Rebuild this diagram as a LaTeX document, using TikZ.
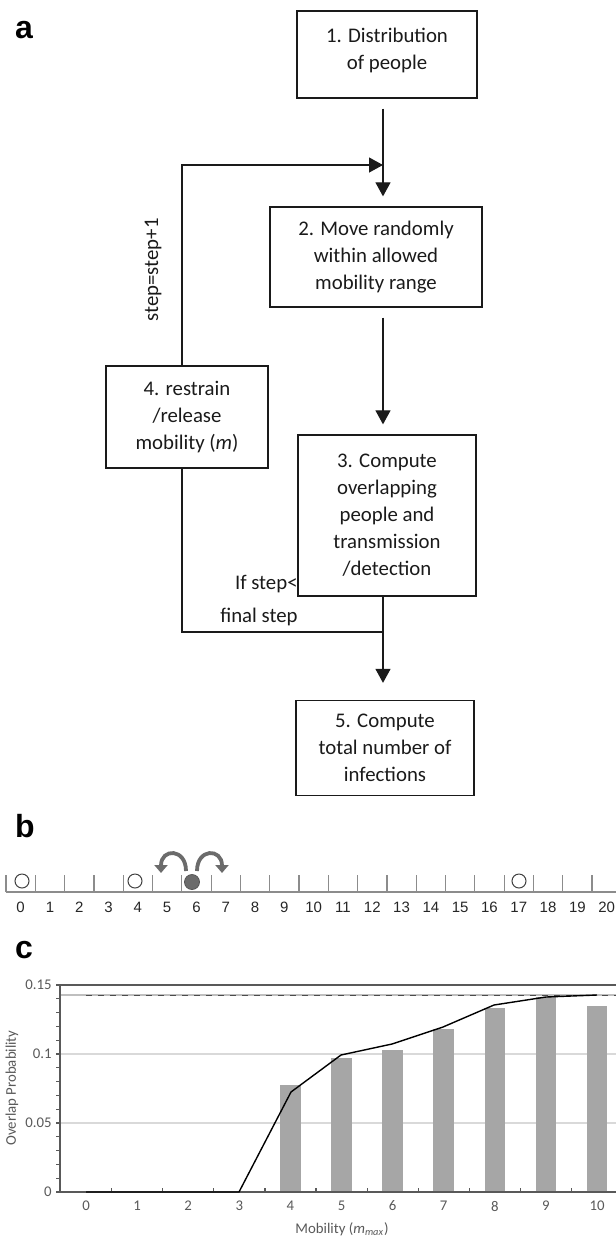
\documentclass[tikz,border=0pt]{standalone}
\usepackage{fontspec}
\setmainfont{Carlito}
\newfontfamily\arialfont{Liberation Sans}
\usetikzlibrary{arrows.meta}
\definecolor{boxline}{HTML}{1A1A1A}
\definecolor{axisgray}{HTML}{595959}
\definecolor{gridgray}{HTML}{D9D9D9}
\definecolor{bargray}{HTML}{A6A6A6}
\definecolor{dotgray}{HTML}{6B6B6B}
\definecolor{linegray}{HTML}{8C8C8C}

\begin{document}
\begin{tikzpicture}[x=0.5pt,y=-0.5pt,
      >={Triangle[length=7pt,width=7.5pt]},
      every node/.style={inner sep=0pt,text=boxline},
      box/.style={draw=boxline,line width=0.65pt,align=center,
        font=\fontsize{10.4}{13.5}\selectfont},
      note/.style={font=\fontsize{10.4}{13.5}\selectfont},
      conn/.style={draw=boxline,line width=0.6pt},
      panel/.style={font=\arialfont\bfseries\fontsize{16}{16}\selectfont,text=black},
      numline/.style={draw=linegray,line width=0.6pt},
      numlbl/.style={font=\arialfont\fontsize{7.5}{7.5}\selectfont,text=black!85},
      spot/.style={circle,draw=black!75,fill=white,line width=0.5pt,minimum size=7pt},
      carrier/.style={circle,draw=dotgray!80!black,fill=dotgray,line width=0.4pt,minimum size=7.5pt},
      hop/.style={draw=dotgray,line width=1.9pt,-{Triangle[length=4pt,width=6.5pt]}},
      ticklbl/.style={font=\fontsize{7.4}{7.4}\selectfont,text=axisgray},
      axis/.style={draw=axisgray,line width=0.6pt},
      grid/.style={draw=gridgray,line width=0.6pt},
      bar/.style={fill=bargray},
      curve/.style={draw=black,line width=0.7pt,line join=round}]

  \useasboundingbox (0,0) rectangle (616,1238);

  % (a) flow chart
  \node [panel] (la) at (24,30) {a};

  \node [box, minimum width=90pt, minimum height=43.5pt] (b1) at (387,54.5)
    {1. Distribution\\of people\\[-7.5pt]{}};
  \node [box, minimum width=106pt, minimum height=50pt] (b2) at (376,257)
    {2. Move randomly\\within allowed\\mobility range};
  \node [box, minimum width=89pt, minimum height=80.5pt] (b3) at (387,515.5)
    {3. Compute\\overlapping\\people and\\transmission\\/detection};
  \node [box, minimum width=81pt, minimum height=51pt] (b4) at (187,417)
    {4. restrain\\/release\\mobility (\textit{m})};
  \node [box, minimum width=89pt, minimum height=47.5pt] (b5) at (385,748)
    {5. Compute\\total number of\\infections};

  \coordinate (col) at (383,0);
  \coordinate (loop) at (182,0);
  \coordinate (j1) at (383,165);
  \coordinate (j2) at (383,632);

  \draw [conn, ->, shorten <=5pt, shorten >=5pt] (b1.south -| col) -- (b2.north -| col);
  \draw [conn, ->, shorten <=5pt, shorten >=5pt] (b2.south -| col) -- (b3.north -| col);
  \draw [conn, ->, shorten >=8.5pt] (b3.south -| col) -- (b5.north -| col);
  \draw [conn, ->] (b4.north -| loop) |- (j1);
  \draw [conn] (b4.south -| loop) |- (j2);

  \node [note, rotate=90] (inc) at (153,270) {step=step+1};
  \node [note, align=right, anchor=east] (cond) at (298,601) {If step<\\[3pt]final step};

  % (b) positions on a line
  \node [panel] (lb) at (25,826) {b};

  \coordinate (nl0) at (6,892);
  \coordinate (nl1) at (616,892);
  \draw [numline] (nl0) -- (nl1);
  \foreach \k in {0,...,20}
    \draw [numline] ({6+29.3*\k},892) -- ++(0,-17);
  \foreach \k in {0,...,20}
    \node [numlbl] (n\k) at ({20.65+29.3*\k},907) {\k};

  \node [spot] (p0) at (22,881) {};
  \node [spot] (p4) at (135,881) {};
  \node [spot] (p17) at (519,881) {};
  \node [carrier] (p6) at (192,882) {};

  \coordinate (hl0) at (186,871);
  \coordinate (hl1) at (161,873);
  \coordinate (hr0) at (197,871);
  \coordinate (hr1) at (222,873);
  \draw [hop] (hl0) .. controls (186,848) and (161,848) .. (hl1);
  \draw [hop] (hr0) .. controls (197,848) and (222,848) .. (hr1);

  % (c) overlap probability
  \node [panel] (lc) at (24,950) {c};

  \foreach \v in {1054,1123}
    \draw [grid] (60,\v) -- (616,\v);
  \draw [draw=black!25, line width=1.1pt] (60,995) -- (616,995);
  \draw [draw=black!70, line width=0.3pt, dashed] (86,995) -- (616,995);

  \foreach \k/\v in {4/0.0775,5/0.0973,6/0.1029,7/0.118,8/0.1333,9/0.1415,10/0.1348}
    \fill [bar] ({86+51.1*\k-10.3},1192) rectangle ({86+51.1*\k+10.3},{1192-1380*\v});

  \draw [axis, line width=0.9pt] (60,985) -- (616,985);
  \draw [axis] (60,985) -- (60,1192) -- (616,1192);
  \foreach \i in {0,...,15}
    \draw [axis] (56,{1192-13.8*\i}) -- (60,{1192-13.8*\i});
  \foreach \j in {1,...,10}
    \draw [axis] ({60.5+51.1*\j},1192) -- ++(0,-4);

  \draw [curve] plot coordinates {(86,1192) (137,1192) (188,1192) (239,1192)
    (291,1092) (341,1055) (392,1044) (443,1027) (494,1005) (546,997) (597,995)};

  \foreach \k in {0,...,10}
    \node [ticklbl] (x\k) at ({86+51.1*\k},1206) {\k};
  \node [ticklbl, anchor=east] (y0) at (52,1192) {0};
  \node [ticklbl, anchor=east] (y1) at (52,1123) {0.05};
  \node [ticklbl, anchor=east] (y2) at (52,1054) {0.1};
  \node [ticklbl, anchor=east] (y3) at (52,985) {0.15};
  \node [ticklbl] (xt) at (342,1229) {Mobility (\textit{m}\textsubscript{\textit{max}})};
  \node [ticklbl, rotate=90] (yt) at (12,1088) {Overlap Probability};

\end{tikzpicture}
\end{document}
